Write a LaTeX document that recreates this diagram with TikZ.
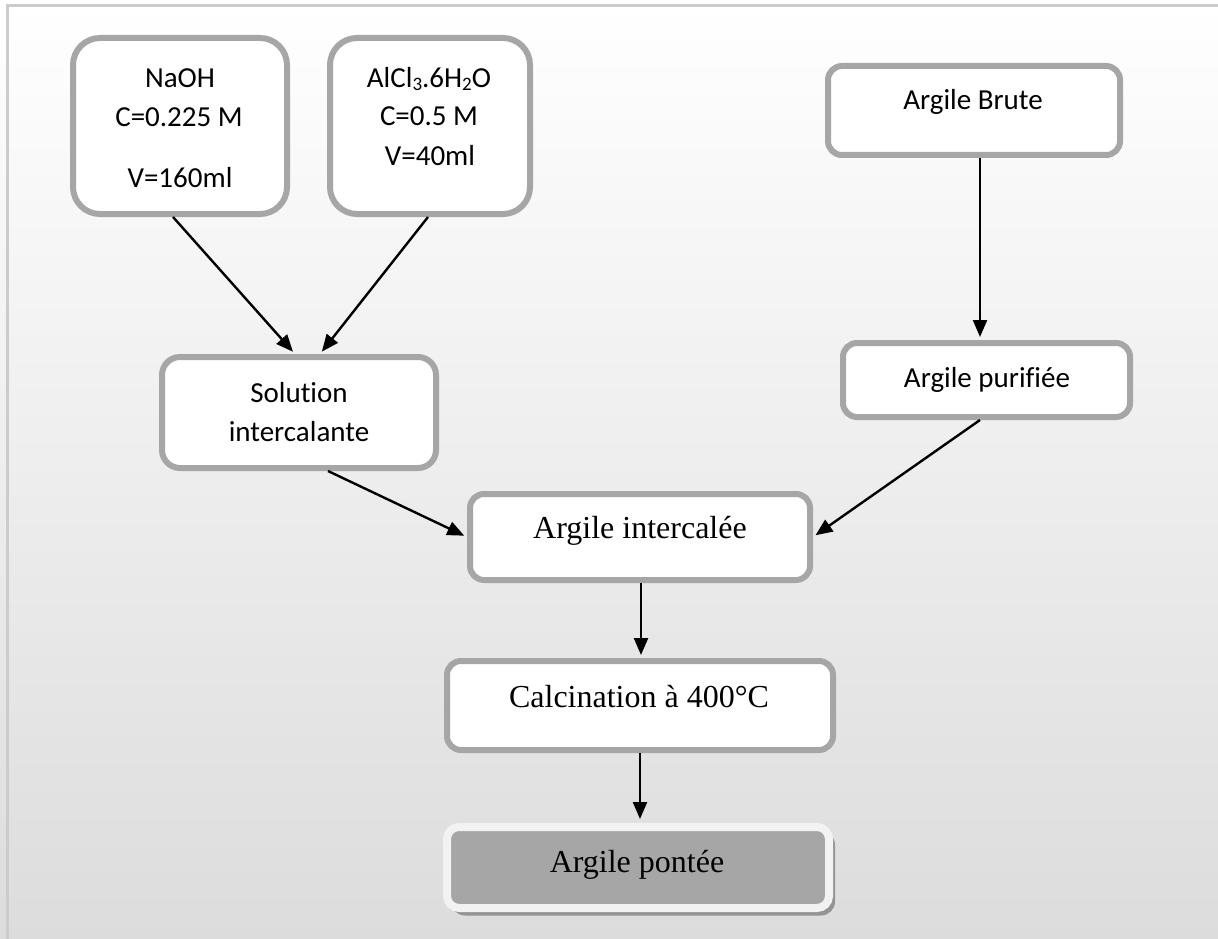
\documentclass[tikz,border=0pt]{standalone}
\usepackage{fontspec}
\setmainfont{Liberation Serif}
\newfontfamily\calib[Ligatures={NoCommon}]{Carlito}
\usetikzlibrary{arrows.meta}
\definecolor{bordergray}{HTML}{A6A6A6}
\definecolor{framegray}{HTML}{CCCCCC}
\definecolor{bggray}{HTML}{DCDCDC}
\definecolor{pontfill}{HTML}{A6A6A6}
\definecolor{pontedge}{HTML}{F2F2F2}
\definecolor{shadowgray}{HTML}{949494}
\newcommand{\chemsub}[1]{\raisebox{-3pt}{\fontsize{19}{19}\selectfont #1}}
\begin{document}
\begin{tikzpicture}[x=1pt,y=-1pt,
  box/.style={draw=bordergray, line width=6pt, fill=white, rounded corners=14pt, inner sep=0pt},
  sanstxt/.style={font=\calib\fontsize{29}{34}\selectfont, anchor=base, inner sep=0pt},
  seriftxt/.style={font=\fontsize{32}{38}\selectfont, anchor=base, inner sep=0pt},
  flow/.style={line width=2.4pt, -{Triangle[length=17pt,width=14pt]}, shorten >=3pt},
]
\useasboundingbox (0,0) rectangle (1218,939);
\shade[top color=white,bottom color=bggray] (0,0) rectangle (1218,939);
\draw[framegray, line width=3pt] (7,939) -- (7,6) -- (1218,6);

% boxes
\node[box, rounded corners=27pt, minimum width=214pt, minimum height=176pt] (naoh) at (180,126) {};
\node[box, rounded corners=27pt, minimum width=200pt, minimum height=176pt] (alcl) at (430,126) {};
\node[box, minimum width=292pt, minimum height=89pt] (brute) at (974,110.5) {};
\node[box, minimum width=287pt, minimum height=74pt] (puri) at (986.5,380) {};
\node[box, rounded corners=18pt, minimum width=274pt, minimum height=111pt] (sol) at (299,412.5) {};
\node[box, minimum width=340pt, minimum height=86pt] (inter) at (640,537) {};
\node[box, minimum width=386pt, minimum height=89pt] (calc) at (640,705.5) {};
\fill[shadowgray, rounded corners=14pt] (451,831) rectangle (835,915.5);
\node[draw=pontedge, line width=8pt, fill=pontfill, rounded corners=12pt, inner sep=0pt,
      minimum width=382pt, minimum height=81pt] (pont) at (638,867.5) {};

% texts
\node[sanstxt] (naoh1) at (180,88) {NaOH};
\node[sanstxt] (naoh2) at (179,127) {C=0.225 M};
\node[sanstxt] (naoh3) at (180,187) {V=160ml};
\node[sanstxt] (alcl1) at (429,88) {AlCl\chemsub{3}.6H\chemsub{2}O};
\node[sanstxt] (alcl2) at (429,126) {C=0.5 M};
\node[sanstxt] (alcl3) at (430,165) {V=40ml};
\node[sanstxt] (brute1) at (973,110) {Argile Brute};
\node[sanstxt] (puri1) at (987,387) {Argile purifiée};
\node[sanstxt] (sol1) at (299,402) {Solution};
\node[sanstxt] (sol2) at (299,441) {intercalante};
\node[seriftxt] (inter1) at (640,538) {Argile intercalée};
\node[seriftxt] (calc1) at (639,707) {Calcination à 400°C};
\node[seriftxt] (pont1) at (637,872) {Argile pontée};

% connectors
\draw[flow] ([xshift=-7pt]naoh.south) -- ([xshift=-4pt]sol.north);
\draw[flow] ([xshift=-2pt]alcl.south) -- ([xshift=21pt]sol.north);
\draw[flow] ([xshift=6pt]brute.south) -- ([xshift=-6.5pt]puri.north);
\draw[flow] ([xshift=29pt]sol.south) -- (inter.west);
\draw[flow] ([xshift=-6.5pt]puri.south) -- (inter.east);
\draw[flow] ([xshift=1pt]inter.south) -- ([xshift=1pt]calc.north);
\draw[flow, shorten >=4pt] (calc.south) -- ([xshift=2pt]pont.north);
\end{tikzpicture}
\end{document}
